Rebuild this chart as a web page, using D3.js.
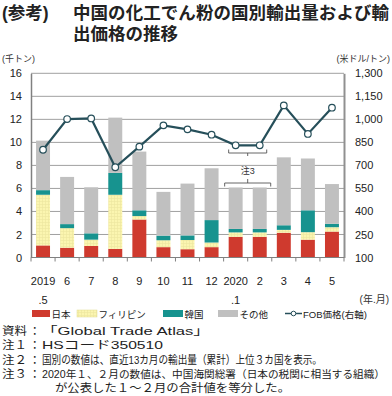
<!DOCTYPE html>
<html><head><meta charset="utf-8">
<script src="https://cdn.jsdelivr.net/npm/d3@7"></script>
<style>
body{margin:0;background:#fff;}
svg text{font-family:"Liberation Sans","Noto Sans CJK JP",sans-serif;}
</style></head>
<body><svg id="c" width="392" height="396"></svg>
<script>
const months1 = ["2019","6","7","8","9","10","11","12","2020","2","3","4","5"];
const months2 = [".5","","","","","","","",".1","","","",""];
const japan   = [1.05,0.85,1.0,0.75,3.3,0.9,0.72,0.9,1.8,1.8,2.15,1.55,2.25];
const philippines = [4.4,1.7,0.55,4.7,0.3,0.6,0.8,0.4,0.38,0.38,0.25,0.65,0.38];
const korea   = [0.4,0.35,0.55,1.9,0.5,0.4,0.4,1.95,0.3,0.3,0.4,1.9,0.3];
const other   = [4.3,4.1,4.0,4.8,5.1,3.8,4.5,4.5,3.6,3.6,5.9,4.5,3.45];
const fob     = [802,1002,1006,688,822,961,935,900,831,831,1091,905,1076];
const leftTicks = [0,2,4,6,8,10,12,14,16];
const rightTicks = [100,250,400,550,700,850,1000,1150,1300];
const seriesNames = ["日本","フィリピン","韓国","その他"];
const colors = ["#cf3a2e","#fbf5b0","#17938f","#c0c0c0"];

const svg = d3.select("#c");
const defs = svg.append("defs");
const pat = defs.append("pattern").attr("id","grid").attr("patternUnits","userSpaceOnUse")
  .attr("width",3).attr("height",3);
pat.append("rect").attr("width",3).attr("height",3).attr("fill","#fbf5b0");
pat.append("path").attr("d","M0,0.5H3M0.5,0V3").attr("stroke","#ece6a0").attr("stroke-width",0.6);

const L=31, R=344, T=73.3, B=257.5;
const x = d3.scaleBand().domain(d3.range(months1.length)).range([L,R]).paddingInner(0.42).paddingOuter(0.21);
const y = d3.scaleLinear().domain([0,16]).range([B,T]);
const y2 = d3.scaleLinear().domain([100,1300]).range([B,T]);

// title
svg.append("text").attr("x",2).attr("y",19).attr("font-size",17.5).attr("font-weight","bold").attr("fill","#222").text("(参考)");
svg.append("text").attr("x",73).attr("y",19).attr("font-size",17.5).attr("font-weight","bold").attr("fill","#222")
  .attr("textLength",316).text("中国の化工でん粉の国別輸出量および輸");
svg.append("text").attr("x",73).attr("y",40).attr("font-size",17.5).attr("font-weight","bold").attr("fill","#222").text("出価格の推移");

svg.append("text").attr("x",2).attr("y",62).attr("font-size",9).attr("fill","#333").text("(千トン)");
svg.append("text").attr("x",390).attr("y",62).attr("text-anchor","end").attr("font-size",9).attr("fill","#333").text("(米ドル/トン)");

// gridlines
svg.append("g").selectAll("line").data(leftTicks.slice(1)).join("line")
  .attr("x1",L).attr("x2",R).attr("y1",d=>y(d)).attr("y2",d=>y(d))
  .attr("stroke","#a0a0a0").attr("stroke-width",1);

// bars
const stackData = months1.map((m,i)=>({i, japan:japan[i], philippines:philippines[i], korea:korea[i], other:other[i]}));
const stack = d3.stack().keys(["japan","philippines","korea","other"])(stackData);
const fills = [colors[0],"url(#grid)",colors[2],colors[3]];
stack.forEach((s,k)=>{
  svg.append("g").selectAll("rect").data(s).join("rect")
    .attr("x",d=>x(d.data.i)).attr("width",x.bandwidth())
    .attr("y",d=>y(d[1])).attr("height",d=>y(d[0])-y(d[1]))
    .attr("fill",fills[k]);
});

// axes
const tickFont = "'Open Sans','Noto Sans',sans-serif";
const axL = svg.append("g").attr("transform",`translate(${L},0)`)
  .call(d3.axisLeft(y).tickValues(leftTicks).tickSize(0).tickPadding(9).tickFormat(d3.format("d")));
axL.select(".domain").attr("stroke","#808080").attr("stroke-width",1.5);
axL.selectAll("text").attr("font-size",11).attr("fill","#222").attr("font-family",tickFont);

const axR = svg.append("g").attr("transform",`translate(${R},0)`)
  .call(d3.axisRight(y2).tickValues(rightTicks).tickSize(0).tickPadding(11).tickFormat(d3.format(",")));
axR.select(".domain").attr("stroke","#909090").attr("stroke-width",2);
axR.selectAll("text").attr("font-size",11).attr("fill","#222").attr("font-family",tickFont);

// bottom axis
svg.append("line").attr("x1",L).attr("x2",R).attr("y1",B).attr("y2",B).attr("stroke","#808080").attr("stroke-width",1.2);
const step = x.step();
svg.append("g").selectAll("line").data(d3.range(months1.length+1)).join("line")
  .attr("x1",d=>L+d*step).attr("x2",d=>L+d*step).attr("y1",B).attr("y2",B+4)
  .attr("stroke","#808080").attr("stroke-width",1);
svg.append("g").selectAll("text").data(months1).join("text")
  .attr("x",(d,i)=>x(i)+x.bandwidth()/2).attr("y",285).attr("text-anchor","middle")
  .attr("font-size",11).attr("fill","#222").attr("font-family",tickFont).text(d=>d);
svg.append("g").selectAll("text").data(months2).join("text")
  .attr("x",(d,i)=>x(i)+x.bandwidth()/2).attr("y",304).attr("text-anchor","middle")
  .attr("font-size",11).attr("fill","#222").attr("font-family",tickFont).text(d=>d);
svg.append("text").attr("x",389).attr("y",303).attr("text-anchor","end").attr("font-size",10).attr("fill","#333").text("(年.月)");

// line
const cx = i=>x(i)+x.bandwidth()/2;
svg.append("path").datum(fob).attr("fill","none").attr("stroke","#264f5a").attr("stroke-width",2.2)
  .attr("d",d3.line().x((d,i)=>cx(i)).y(d=>y2(d)));
svg.append("g").selectAll("circle").data(fob).join("circle")
  .attr("cx",(d,i)=>cx(i)).attr("cy",d=>y2(d)).attr("r",3.3)
  .attr("fill","#fff").attr("stroke","#264f5a").attr("stroke-width",1.2);

// note 3 brackets
const bx1 = x(8)-4, bx2 = x(9)+x.bandwidth()+4, bm=(cx(8)+cx(9))/2;
svg.append("path").attr("fill","none").attr("stroke","#555").attr("stroke-width",0.9)
  .attr("d",`M${x(8)},149.5V153H${x(9)+x.bandwidth()}V149.5M${bm},153V156`);
svg.append("path").attr("fill","none").attr("stroke","#555").attr("stroke-width",0.9)
  .attr("d",`M${bx1},186.5V183H${bx2}V186.5M${bm},183V179`);
svg.append("text").attr("x",bm).attr("y",174).attr("text-anchor","middle").attr("font-size",9).attr("fill","#333").text("注3");

// legend
const lg = svg.append("g").attr("font-size",9.5).attr("fill","#222");
const items = [{x:32,w:18,c:colors[0],t:seriesNames[0]},{x:77,w:20,c:"url(#grid)",t:seriesNames[1]},
  {x:163,w:20,c:colors[2],t:seriesNames[2]},{x:218,w:20,c:colors[3],t:seriesNames[3]}];
items.forEach(it=>{
  lg.append("rect").attr("x",it.x).attr("y",310).attr("width",it.w).attr("height",7).attr("fill",it.c)
    .attr("stroke",it.c==="url(#grid)"?"#e0da90":"none").attr("stroke-width",0.5);
  lg.append("text").attr("x",it.x+it.w+1.5).attr("y",317.5).text(it.t);
});
lg.append("line").attr("x1",285).attr("x2",302).attr("y1",313.5).attr("y2",313.5).attr("stroke","#264f5a").attr("stroke-width",1.5);
lg.append("circle").attr("cx",293.5).attr("cy",313.5).attr("r",2.3).attr("fill","#fff").attr("stroke","#264f5a").attr("stroke-width",1);
lg.append("text").attr("x",303).attr("y",317.5).attr("font-size",9.5).text("FOB価格(右軸)");

// notes
const noteHeads = ["資料","注１","注２","注３",""];
const noteBodies = ["「Global Trade Atlas」","HSコード350510",
  "国別の数値は、直近13カ月の輸出量（累計）上位３カ国を表示。",
  "2020年１、２月の数値は、中国海関総署（日本の税関に相当する組織）",
  "が公表した１～２月の合計値を等分した。"];
const ny = [335,349,364,378,392];
const bodyX = [41,42,42,42,55];
const bodyEnd = [210,163,322,385,290];
const bodyFs = [11.5,11.5,11.5,10.5,11.5];
noteHeads.forEach((h,i)=>{
  if(h){
    svg.append("text").attr("x",2).attr("y",ny[i]).attr("font-size",11.5).attr("fill","#222")
      .attr("textLength",25).attr("lengthAdjust","spacingAndGlyphs").text(h);
    svg.append("text").attr("x",29).attr("y",ny[i]).attr("font-size",11.5).attr("fill","#222").text("：");
  }
  svg.append("text").attr("x",bodyX[i]).attr("y",ny[i]).attr("font-size",bodyFs[i]).attr("fill","#222")
    .attr("textLength",bodyEnd[i]-bodyX[i]).attr("lengthAdjust","spacingAndGlyphs").text(noteBodies[i]);
});
</script></body></html>
